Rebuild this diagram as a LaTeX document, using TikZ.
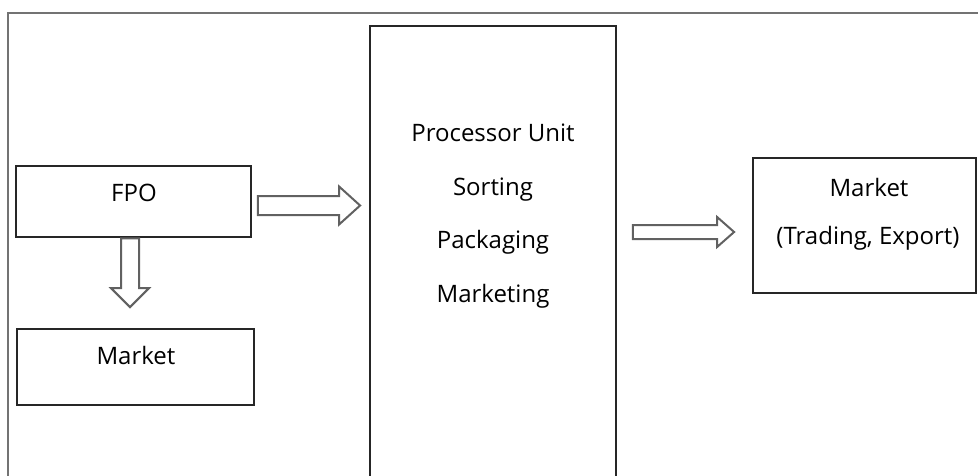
\documentclass[tikz,border=0pt]{standalone}
\usepackage{fontspec}
\setmainfont{Open Sans}
\usetikzlibrary{calc}

\tikzset{
  frame/.style={draw=black!55, line width=0.8pt},
  box/.style={draw=black!85, line width=1.35pt, rectangle, inner sep=0pt},
  lbl/.style={font=\fontsize{18}{20}\selectfont, inner sep=0pt, anchor=base},
  blockarrow/.style={draw=black!62, line width=1.5pt, fill=white, line join=miter},
}

% Hollow block arrow pointing right: tail, tip, shaft half-width, head half-width, head length (px)
\newcommand{\blockarrowright}[5]{%
  \draw[blockarrow] let \p1=(#1), \p2=(#2) in
    (\x1,\y1+#3*0.75pt) -- (\x2-#5*0.75pt,\y1+#3*0.75pt) -- (\x2-#5*0.75pt,\y1+#4*0.75pt)
    -- (\x2,\y2) -- (\x2-#5*0.75pt,\y1-#4*0.75pt) -- (\x2-#5*0.75pt,\y1-#3*0.75pt)
    -- (\x1,\y1-#3*0.75pt) -- cycle;}

% Hollow block arrow pointing down: tail, tip, shaft half-width, head half-width, head length (px)
\newcommand{\blockarrowdown}[5]{%
  \draw[blockarrow] let \p1=(#1), \p2=(#2) in
    (\x1+#3*0.75pt,\y1) -- (\x1+#3*0.75pt,\y2+#5*0.75pt) -- (\x1+#4*0.75pt,\y2+#5*0.75pt)
    -- (\x2,\y2) -- (\x1-#4*0.75pt,\y2+#5*0.75pt) -- (\x1-#3*0.75pt,\y2+#5*0.75pt)
    -- (\x1-#3*0.75pt,\y1) -- cycle;}

\begin{document}
\begin{tikzpicture}[x=0.75pt,y=-0.75pt]
\useasboundingbox (0,0) rectangle (978,475);
\clip (0,0) rectangle (978,475);

% outer frame
\draw[frame] (990,13) -- (8,13) -- (8,490);

% boxes
\node[box, minimum width=176.25pt, minimum height=53.25pt] (fpo)  at (133.5,201.5) {};
\node[box, minimum width=177.75pt, minimum height=57pt]    (mktl) at (135.5,367) {};
\node[box, minimum width=184.5pt,  minimum height=348pt]   (proc) at (493,258) {};
\node[box, minimum width=167.25pt, minimum height=101.25pt] (mktr) at (864.5,225.5) {};

% labels
\node[lbl] (fpot)  at (134,201) {FPO};
\node[lbl] (mktlt) at (136,364) {Market};
\node[lbl] (p1) at (493,141.5) {Processor Unit};
\node[lbl] (p2) at (493,195) {Sorting};
\node[lbl] (p3) at (493,248.5) {Packaging};
\node[lbl] (p4) at (493,302) {Marketing};
\node[lbl] (m1) at (869,196) {Market};
\node[lbl] (m2) at (868,244) {(Trading, Export)};

% arrows
\coordinate (a1t) at ($(fpo.east)+(6,4)$);
\coordinate (a1h) at ($(proc.west |- a1t)+(-9,0)$);
\blockarrowright{a1t}{a1h}{9.5}{19}{21}

\coordinate (a2t) at ($(fpo.south)+(-3.5,0.5)$);
\coordinate (a2h) at ($(mktl.north -| a2t)+(0,-21)$);
\blockarrowdown{a2t}{a2h}{9}{19}{19}

\coordinate (a3t) at ($(proc.east)+(16,-26)$);
\coordinate (a3h) at ($(mktr.west |- a3t)+(-18,0)$);
\blockarrowright{a3t}{a3h}{7}{15}{17}
\end{tikzpicture}
\end{document}
